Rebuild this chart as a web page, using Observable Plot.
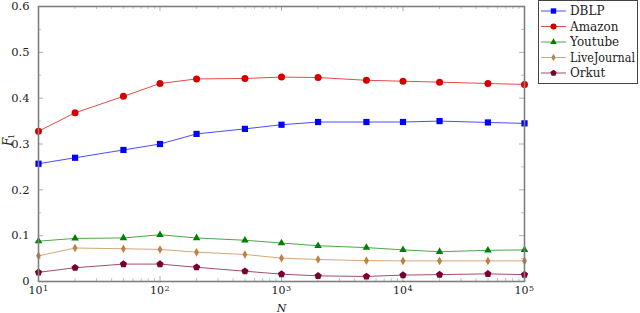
<!DOCTYPE html>
<html>
<head>
<meta charset="utf-8">
<script src="https://cdn.jsdelivr.net/npm/d3@7"></script>
<script src="https://cdn.jsdelivr.net/npm/@observablehq/plot@0.6"></script>
<style>
  html, body { margin: 0; padding: 0; background: #fff; }
  #wrap { position: relative; width: 640px; height: 313px; font-family: "DejaVu Serif", serif; }
  #wrap svg text { font-family: "DejaVu Serif", serif; }
  #legend { position: absolute; left: 538px; top: 0px; }
</style>
</head>
<body>
<div id="wrap"></div>
<script>
// ---- data ----
const N = [10, 20, 50, 100, 200, 500, 1000, 2000, 5000, 10000, 20000, 50000, 100000];
const dblp        = [0.257, 0.270, 0.287, 0.300, 0.322, 0.333, 0.342, 0.348, 0.348, 0.348, 0.350, 0.347, 0.345];
const amazon      = [0.328, 0.368, 0.404, 0.432, 0.442, 0.443, 0.446, 0.445, 0.439, 0.437, 0.435, 0.432, 0.430];
const youtube     = [0.088, 0.094, 0.095, 0.102, 0.095, 0.090, 0.084, 0.078, 0.074, 0.069, 0.065, 0.068, 0.069];
const livejournal = [0.056, 0.073, 0.0715, 0.070, 0.064, 0.059, 0.051, 0.048, 0.0455, 0.045, 0.045, 0.045, 0.045];
const orkut       = [0.020, 0.030, 0.038, 0.038, 0.031, 0.0225, 0.016, 0.0123, 0.011, 0.014, 0.015, 0.0167, 0.015];
const seriesNames = ["DBLP", "Amazon", "Youtube", "LiveJournal", "Orkut"];
const yTickValues = [0, 0.1, 0.2, 0.3, 0.4, 0.5, 0.6];
const xTickValues = [10, 100, 1000, 10000, 100000];

// ---- styling ----
const colors = ["#0000ff", "#d40000", "#008000", "#bf8040", "#7a0030"];
const pentagon = {
  draw(context, size) {
    const R = Math.sqrt(size / 2.3776);
    for (let i = 0; i < 5; i++) {
      const a = -Math.PI / 2 + i * 2 * Math.PI / 5;
      const px = R * Math.cos(a), py = R * Math.sin(a);
      if (i === 0) context.moveTo(px, py); else context.lineTo(px, py);
    }
    context.closePath();
  }
};
const symbols = ["square", "circle", "triangle", "diamond", pentagon];
const d3symbols = [d3.symbolSquare, d3.symbolCircle, d3.symbolTriangle, d3.symbolDiamond, pentagon];
const radii = [3.5, 3.5, 2.8, 2.6, 3.3];

const allSeries = [dblp, amazon, youtube, livejournal, orkut];
const table = [];
allSeries.forEach((vals, s) => vals.forEach((v, i) => table.push({series: seriesNames[s], n: N[i], f: v})));

// tick helpers (positions only)
const minorX = [];
for (let e = 1; e < 5; e++) for (let k = 2; k <= 9; k++) minorX.push(k * Math.pow(10, e));
const minorY = yTickValues.slice(0, -1).map(v => +(v + 0.05).toFixed(2));

const W = 640, H = 313, mL = 38, mR = 116, mT = 6, mB = 32;
const plotH = H - mT - mB, plotW = W - mL - mR;
const tickCol = "#9a9a9a";
const FONT = "'DejaVu Serif', serif";

const marks = [
  Plot.ruleX(xTickValues, {x: d => d, insetTop: plotH - 5, stroke: tickCol, strokeWidth: 0.8}),
  Plot.ruleX(xTickValues, {x: d => d, insetBottom: plotH - 5, stroke: tickCol, strokeWidth: 0.8}),
  Plot.ruleX(minorX, {x: d => d, insetTop: plotH - 3, stroke: tickCol, strokeWidth: 0.6}),
  Plot.ruleX(minorX, {x: d => d, insetBottom: plotH - 3, stroke: tickCol, strokeWidth: 0.6}),
  Plot.ruleY(yTickValues, {y: d => d, insetRight: plotW - 5, stroke: tickCol, strokeWidth: 0.8}),
  Plot.ruleY(yTickValues, {y: d => d, insetLeft: plotW - 5, stroke: tickCol, strokeWidth: 0.8}),
  Plot.ruleY(minorY, {y: d => d, insetRight: plotW - 3, stroke: tickCol, strokeWidth: 0.6}),
  Plot.ruleY(minorY, {y: d => d, insetLeft: plotW - 3, stroke: tickCol, strokeWidth: 0.6}),
  Plot.axisY(yTickValues, {tickSize: 0, tickPadding: 9, fontSize: 11.5, tickFormat: d => d === 0 ? "0" : d.toFixed(1), label: null, fill: "#222"}),
  Plot.text(xTickValues, {x: d => d, frameAnchor: "bottom", text: d => "10", textAnchor: "end", lineAnchor: "top", dx: 4, dy: 5, fontSize: 11, fill: "#222"}),
  Plot.text(xTickValues, {x: d => d, frameAnchor: "bottom", text: d => String(Math.round(Math.log10(d))), textAnchor: "start", lineAnchor: "top", dx: 4.5, dy: 3.5, fontSize: 8, fill: "#222"}),
  Plot.text(["N"], {frameAnchor: "bottom", text: d => d, lineAnchor: "bottom", dy: 30.5, fontSize: 11, fontStyle: "italic", fill: "#222"}),
  Plot.text(["F"], {frameAnchor: "left", text: d => d, rotate: -90, dx: -30, dy: 2, fontSize: 12, fontStyle: "italic", fill: "#222"}),
  Plot.text(["1"], {frameAnchor: "left", text: d => d, rotate: -90, dx: -27, dy: -5, fontSize: 8, fill: "#222"}),
  Plot.line(table, {x: "n", y: "f", z: "series", stroke: "series", strokeWidth: 1, strokeOpacity: 0.7}),
  ...seriesNames.map((name, s) => Plot.dot(table.filter(d => d.series === name), {x: "n", y: "f", symbol: () => symbols[s], r: radii[s], fill: colors[s], stroke: "none"})),
  Plot.frame({stroke: "#7f7f7f", strokeWidth: 1.6})
];

const chart = Plot.plot({
  width: W, height: H,
  marginLeft: mL, marginRight: mR, marginTop: mT, marginBottom: mB,
  style: {fontFamily: FONT, background: "#fff"},
  x: {type: "log", domain: [10, 100000], axis: null},
  y: {domain: [0, 0.6], axis: null},
  color: {domain: seriesNames, range: colors},
  symbol: {type: "identity"},
  marks
});
const wrap = document.getElementById("wrap");
wrap.appendChild(chart);

// legend (SVG)
const lg = d3.create("svg").attr("id", "legend").attr("width", 101).attr("height", 85);
lg.append("rect").attr("x", 0.5).attr("y", 0.5).attr("width", 99).attr("height", 83)
  .attr("fill", "#fff").attr("stroke", "#444").attr("stroke-width", 1);
seriesNames.forEach((name, s) => {
  const y = 11 + s * 15.5;
  lg.append("line").attr("x1", 3).attr("x2", 28).attr("y1", y).attr("y2", y)
    .attr("stroke", colors[s]).attr("stroke-opacity", 0.7).attr("stroke-width", 1);
  const size = Math.PI * radii[s] * radii[s];
  lg.append("path").attr("transform", `translate(15.5,${y})`)
    .attr("d", d3.symbol(d3symbols[s], size * 0.75)()).attr("fill", colors[s]);
  lg.append("text").attr("x", 32).attr("y", y).attr("dy", "0.35em")
    .attr("font-size", 12).attr("fill", "#222")
    .attr("textLength", name === "LiveJournal" ? 65 : null)
    .attr("lengthAdjust", "spacingAndGlyphs")
    .text(name);
});
wrap.appendChild(lg.node());
</script>
</body>
</html>
